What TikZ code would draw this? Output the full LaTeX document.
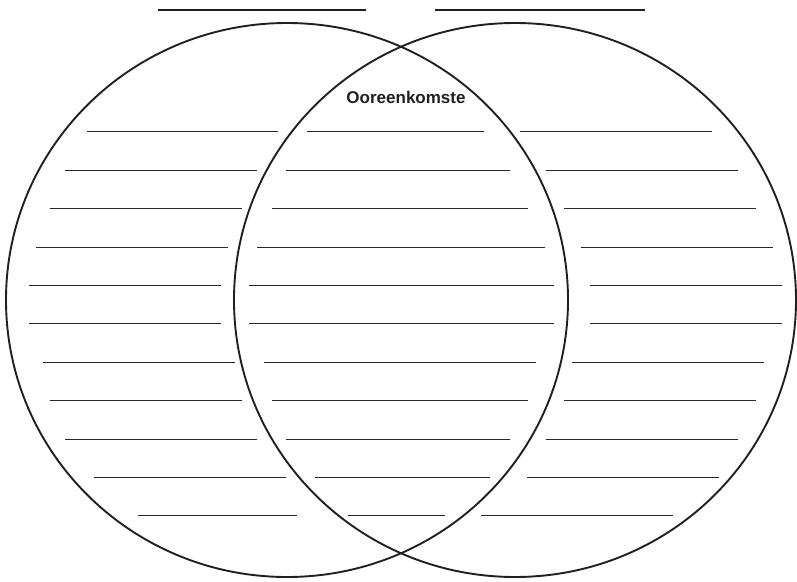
\documentclass[tikz,border=0pt]{standalone}
\usepackage{fontspec}
\setmainfont{Liberation Sans}
\usetikzlibrary{positioning}
\definecolor{InkBlack}{RGB}{35,31,32}
\definecolor{LineGray}{RGB}{40,40,40}
\tikzset{
  venn/.style={draw=InkBlack,line width=1.9pt},
  headline/.style={draw=InkBlack,line width=2.5pt},
  blank/.style={draw=LineGray,line width=1.35pt},
  heading/.style={font=\bfseries\fontsize{17}{20}\selectfont,text=InkBlack,inner sep=0pt}
}

\begin{document}
\begin{tikzpicture}[x=1pt,y=-1pt]
  \useasboundingbox (0,0) rectangle (797,581);
  % two sets
  \draw[venn] (287,300) ellipse [x radius=281pt,y radius=277pt];
  \draw[venn] (515,300) ellipse [x radius=281pt,y radius=277pt];
  % name lines above the sets
  \coordinate (hA1) at (158,10);
  \coordinate (hA2) at (366,10);
  \coordinate (hB1) at (435,10);
  \coordinate (hB2) at (645,10);
  \draw[headline] (hA1) -- (hA2);
  \draw[headline] (hB1) -- (hB2);
  \node[heading] (common) at (406,97) {Ooreenkomste};
  % fill-in lines: y / left / middle / right
  \foreach \y/\la/\lb/\ma/\mb/\ra/\rb in {
      131.5/87/278/307/484/520/712,
      170.5/65/257/286/510/546/738,
      208.5/50/242/272/528/564/756,
      247.5/36/228/257/545/581/773,
      285.5/29/221/249/554/590/782,
      323.5/29/221/249/554/590/782,
      362.5/43/235/264/536/572/764,
      400.5/50/242/272/528/564/756,
      439.5/65/257/286/510/546/738,
      477.5/94/286/315/490/527/719,
      515.5/138/297/348/445/481/673}{
    \draw[blank] (\la,\y) -- (\lb,\y);
    \draw[blank] (\ma,\y) -- (\mb,\y);
    \draw[blank] (\ra,\y) -- (\rb,\y);
  }
\end{tikzpicture}
\end{document}
